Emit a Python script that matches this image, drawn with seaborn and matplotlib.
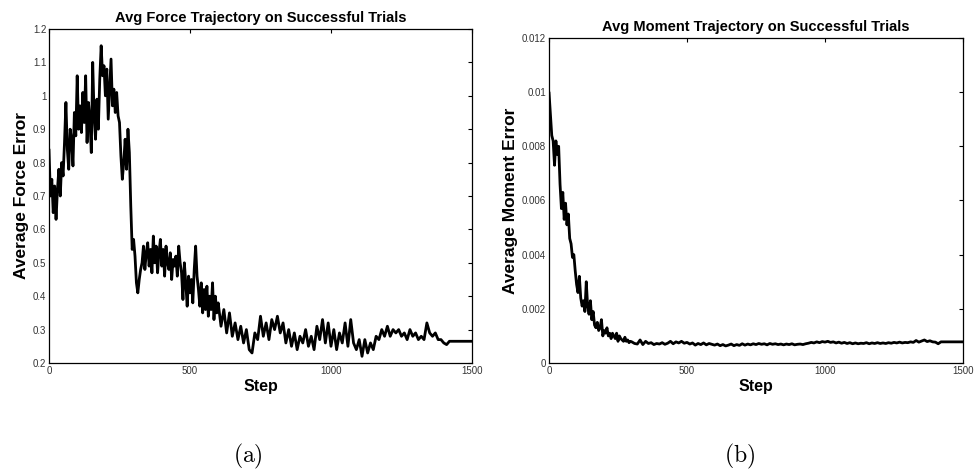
import numpy as np
import matplotlib
matplotlib.use("Agg")
import matplotlib.pyplot as plt
import seaborn as sns

# Force error (steps 0-595 every 5, then every 10)
force_early = [0.84, 0.70, 0.75, 0.65, 0.73, 0.63, 0.72, 0.78, 0.70, 0.80,
               0.76, 0.86, 0.98, 0.84, 0.78, 0.90, 0.87, 0.79, 0.95, 0.88,
               1.06, 0.90, 0.97, 0.89, 1.01, 0.92, 1.06, 0.86, 0.98, 0.93,
               0.83, 1.10, 0.94, 0.87, 0.99, 0.90, 1.05, 1.15, 1.06, 1.09,
               1.00, 1.08, 0.93, 1.02, 1.11, 0.97, 1.02, 0.95, 1.01, 0.94,
               0.92, 0.82, 0.75, 0.80, 0.87, 0.78, 0.90, 0.83, 0.67, 0.54,
               0.57, 0.52, 0.44, 0.41, 0.45, 0.48, 0.50, 0.55, 0.48, 0.53,
               0.56, 0.49, 0.54, 0.47, 0.58, 0.50, 0.55, 0.47, 0.53, 0.57,
               0.49, 0.54, 0.46, 0.55, 0.50, 0.48, 0.53, 0.45, 0.51, 0.49,
               0.52, 0.46, 0.55, 0.50, 0.47, 0.39, 0.50, 0.44, 0.37, 0.46,
               0.41, 0.45, 0.38, 0.48, 0.55, 0.46, 0.42, 0.37, 0.44, 0.35,
               0.42, 0.36, 0.43, 0.34, 0.40, 0.36, 0.44, 0.33, 0.40, 0.35]
force_late = [0.38, 0.31, 0.36, 0.29, 0.35, 0.28, 0.32, 0.27, 0.31, 0.26,
              0.30, 0.24, 0.23, 0.29, 0.27, 0.34, 0.28, 0.32, 0.27, 0.33,
              0.30, 0.34, 0.29, 0.32, 0.26, 0.30, 0.25, 0.29, 0.24, 0.28,
              0.26, 0.30, 0.25, 0.28, 0.24, 0.31, 0.27, 0.33, 0.26, 0.32,
              0.25, 0.30, 0.24, 0.29, 0.26, 0.32, 0.25, 0.33, 0.26, 0.24,
              0.27, 0.22, 0.27, 0.23, 0.26, 0.24, 0.28, 0.27, 0.30, 0.28,
              0.31, 0.28, 0.30, 0.29, 0.30, 0.28, 0.29, 0.27, 0.30, 0.28,
              0.29, 0.27, 0.28, 0.27, 0.32, 0.29, 0.28, 0.29, 0.27, 0.27,
              0.26, 0.255]
force_tail = [0.265, 0.265]

# Moment error (steps 0-300 every 5, then every 10)
moment_early = [0.0100, 0.0092, 0.0084, 0.0082, 0.0073, 0.0082, 0.0077, 0.0080, 0.0066, 0.0057,
                0.0063, 0.0053, 0.0059, 0.0051, 0.0055, 0.0046, 0.0044, 0.0039, 0.0040, 0.0034,
                0.0029, 0.0026, 0.0032, 0.0024, 0.0021, 0.0023, 0.0019, 0.0030, 0.0021, 0.0018,
                0.0023, 0.0016, 0.0019, 0.0014, 0.0013, 0.0015, 0.0012, 0.0013, 0.0016, 0.0010,
                0.0012, 0.0011, 0.0013, 0.0010, 0.0011, 0.0009, 0.0011, 0.0010, 0.0009, 0.0011,
                0.0008, 0.0010, 0.0009, 0.00085, 0.0008, 0.00095, 0.0008, 0.00085, 0.00075, 0.0008,
                0.00078]
moment_late = [0.00072, 0.00070, 0.00085, 0.00068, 0.00080, 0.00072, 0.00075, 0.00068, 0.00072, 0.00070,
               0.00075, 0.00069, 0.00073, 0.00080, 0.00071, 0.00078, 0.00074, 0.00080, 0.00073, 0.00076,
               0.00070, 0.00074, 0.00066, 0.00072, 0.00068, 0.00074, 0.00067, 0.00072, 0.00069, 0.00066,
               0.00070, 0.00064, 0.00068, 0.00063, 0.00066, 0.00070, 0.00064, 0.00068, 0.00065, 0.00071,
               0.00066, 0.00070, 0.00067, 0.00071, 0.00068, 0.00072, 0.00069, 0.00071, 0.00067, 0.00072,
               0.00069, 0.00071, 0.00068, 0.00070, 0.00067, 0.00070, 0.00068, 0.00071, 0.00067, 0.00069,
               0.00070, 0.00068, 0.00071, 0.00073, 0.00076, 0.00074, 0.00078, 0.00075, 0.00079, 0.00077,
               0.00080, 0.00076, 0.00078, 0.00074, 0.00077, 0.00073, 0.00076, 0.00072, 0.00075, 0.00071,
               0.00074, 0.00071, 0.00073, 0.00072, 0.00075, 0.00071, 0.00074, 0.00072, 0.00075, 0.00072,
               0.00074, 0.00072, 0.00075, 0.00073, 0.00076, 0.00074, 0.00077, 0.00074, 0.00076, 0.00075,
               0.00078, 0.00076, 0.00083, 0.00077, 0.00081, 0.00085, 0.00079, 0.00082, 0.00078, 0.00077,
               0.00071]
moment_tail = [0.00078, 0.00078]

force_steps = np.concatenate([np.arange(0, 600, 5), np.arange(600, 1420, 10), [1420, 1500]])
moment_steps = np.concatenate([np.arange(0, 305, 5), np.arange(310, 1420, 10), [1420, 1500]])
force = force_early + force_late + force_tail
moment = moment_early + moment_late + moment_tail

force_ticks = [0.2, 0.3, 0.4, 0.5, 0.6, 0.7, 0.8, 0.9, 1.0, 1.1, 1.2]
force_labels = ["0.2", "0.3", "0.4", "0.5", "0.6", "0.7", "0.8", "0.9", "1", "1.1", "1.2"]
moment_ticks = [0, 0.002, 0.004, 0.006, 0.008, 0.010, 0.012]
moment_labels = ["0", "0.002", "0.004", "0.006", "0.008", "0.01", "0.012"]
step_ticks = [0, 500, 1000, 1500]

sns.set_style("white")
plt.rcParams["font.family"] = ["Liberation Sans", "DejaVu Sans"]
plt.rcParams["mathtext.fontset"] = "cm"
plt.rcParams["text.color"] = "black"
plt.rcParams["axes.labelcolor"] = "black"

fig = plt.figure(figsize=(9.76, 4.74), dpi=100)
ax1 = fig.add_axes([0.0502, 0.2342, 0.4334, 0.7046])
ax2 = fig.add_axes([0.5625, 0.2342, 0.4242, 0.6857])

sns.lineplot(x=force_steps, y=force, ax=ax1, color="black", linewidth=2.0)
sns.lineplot(x=moment_steps, y=moment, ax=ax2, color="black", linewidth=2.0)

panels = [
    (ax1, "Avg Force Trajectory on Successful Trials", "Average Force Error",
     force_ticks, force_labels, (0.2, 1.2)),
    (ax2, "Avg Moment Trajectory on Successful Trials", "Average Moment Error",
     moment_ticks, moment_labels, (0, 0.012)),
]
for ax, title, ylabel, yt, yl, ylim in panels:
    ax.set_xlim(0, 1500)
    ax.set_ylim(*ylim)
    ax.set_xticks(step_ticks)
    ax.set_xticklabels([str(t) for t in step_ticks])
    ax.set_yticks(yt)
    ax.set_yticklabels(yl)
    ax.tick_params(direction="in", length=3, width=0.8, labelsize=7,
                   top=True, right=True, colors="black", labelcolor="#333333", pad=2)
    for sp in ax.spines.values():
        sp.set_visible(True)
        sp.set_color("black")
        sp.set_linewidth(0.9)
    ax.set_title(title, fontsize=10.5, fontweight="bold", pad=5)
    ax.set_xlabel("Step", fontsize=11.5, fontweight="bold", labelpad=2)
    ax.set_ylabel(ylabel, fontsize=12.5, fontweight="bold", labelpad=3)

fig.text(0.254, 0.036, r"$\mathrm{(a)}$", ha="center", va="center", fontsize=17)
fig.text(0.758, 0.036, r"$\mathrm{(b)}$", ha="center", va="center", fontsize=17)

fig.savefig("out.png", dpi=100)
